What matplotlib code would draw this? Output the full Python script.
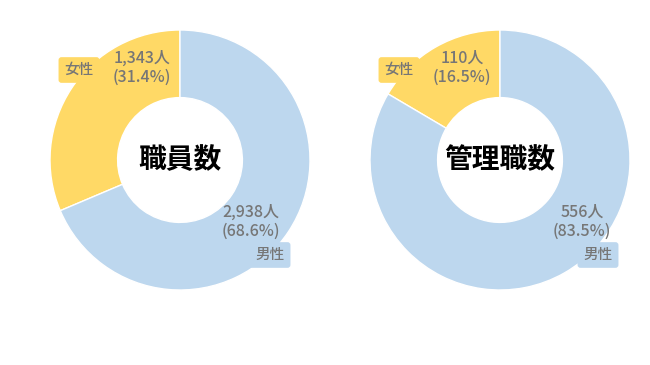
import matplotlib.pyplot as plt

plt.rcParams['font.family'] = ['Noto Sans CJK JP', 'DejaVu Sans']

# -----------------------------
# Data
# -----------------------------
titles = ["職員数", "管理職数"]
genders = ["女性", "男性"]
staff_counts = [1343, 2938]
manager_counts = [110, 556]

colors = ["#ffd966", "#bdd7ee"]
text_gray = "#767676"

fig = plt.figure(figsize=(6.5, 3.65), dpi=100)
ax = fig.add_axes([0, 0, 1, 1])

# layout: donut centre, male value label x-offset, male tag x-offset
centers = [(180, 205), (500, 205)]
male_dx = [71, 82]
male_tag_dx = [90, 98]
radius = 130

for i, (title, counts) in enumerate(zip(titles, [staff_counts, manager_counts])):
    cx, cy = centers[i]
    total = sum(counts)
    ax.pie(counts, colors=colors, startangle=90, counterclock=True,
           center=(cx, cy), radius=radius, frame=True,
           wedgeprops=dict(width=radius * 0.52, edgecolor="white", linewidth=1))
    ax.text(cx, cy, title, ha="center", va="center", fontsize=20,
            fontweight="bold", color="black")

    # female label (upper left)
    f_pct = counts[0] / total * 100
    ax.text(cx - 38, 297, f"{counts[0]:,}人\n({f_pct:.1f}%)", ha="center", va="center",
            fontsize=11.5, fontweight="medium", color=text_gray, linespacing=1.15)
    ax.text(cx - 101, 295, genders[0], ha="center", va="center", fontsize=10.5,
            fontweight="medium", color=text_gray,
            bbox=dict(boxstyle="round,pad=0.4,rounding_size=0.2", fc=colors[0], ec="none"))

    # male label (lower right)
    m_pct = counts[1] / total * 100
    ax.text(cx + male_dx[i], 143, f"{counts[1]:,}人\n({m_pct:.1f}%)", ha="center", va="center",
            fontsize=11.5, fontweight="medium", color=text_gray, linespacing=1.15)
    ax.text(cx + male_tag_dx[i], 110, genders[1], ha="center", va="center", fontsize=10.5,
            fontweight="medium", color=text_gray,
            bbox=dict(boxstyle="round,pad=0.4,rounding_size=0.2", fc=colors[1], ec="none"))

ax.set_xlim(0, 650)
ax.set_ylim(0, 365)
ax.set_aspect("equal")
ax.axis("off")

fig.savefig("out.png", dpi=100)
